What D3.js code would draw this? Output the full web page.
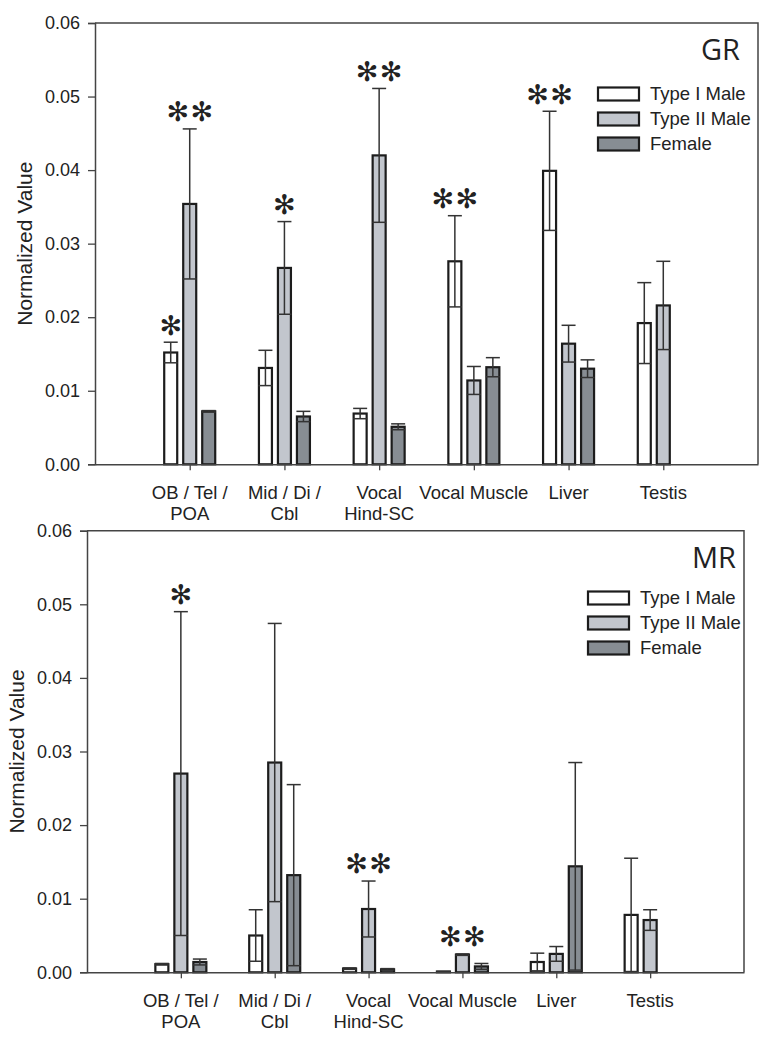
<!DOCTYPE html>
<html>
<head>
<meta charset="utf-8">
<script src="https://cdn.jsdelivr.net/npm/d3@7"></script>
<style>
  body { margin: 0; background: #fff; }
  svg text { font-family: "Liberation Sans", Arial, sans-serif; fill: #222; }
</style>
</head>
<body>
<div id="chart"></div>
<script>
/* DATA */
const categories = [["OB / Tel /", "POA"], ["Mid / Di /", "Cbl"], ["Vocal", "Hind-SC"], ["Vocal Muscle"], ["Liver"], ["Testis"]];
const groups = ["Type I Male", "Type II Male", "Female"];
const yTicks = [0, 0.01, 0.02, 0.03, 0.04, 0.05, 0.06];

// GR panel
const grType1 = [0.0152, 0.0131, 0.0069, 0.0276, 0.0399, 0.0192];
const grType1Se = [0.0014, 0.0024, 0.0007, 0.0062, 0.0081, 0.0055];
const grType2 = [0.0354, 0.0267, 0.0420, 0.0114, 0.0164, 0.0216];
const grType2Se = [0.0102, 0.0063, 0.0091, 0.0019, 0.0025, 0.0060];
const grFemale = [0.0072, 0.0065, 0.0051, 0.0132, 0.0130, null];
const grFemaleSe = [0.0001, 0.0007, 0.0004, 0.0013, 0.0012, null];
// [category, group, number of stars]
const grStars = [[0, 0, 1], [0, 1, 2], [1, 1, 1], [2, 1, 2], [3, 0, 2], [4, 0, 2]];

// MR panel
const mrType1 = [0.0011, 0.0050, 0.0005, 0.0001, 0.0014, 0.0078];
const mrType1Se = [0.0001, 0.0035, 0.0001, 0.0000, 0.0012, 0.0077];
const mrType2 = [0.0270, 0.0285, 0.0086, 0.0024, 0.0025, 0.0071];
const mrType2Se = [0.0220, 0.0189, 0.0038, 0.0001, 0.0010, 0.0014];
const mrFemale = [0.0014, 0.0132, 0.0004, 0.0008, 0.0144, null];
const mrFemaleSe = [0.0004, 0.0123, 0.0001, 0.0004, 0.0141, null];
const mrStars = [[0, 1, 1], [2, 1, 2], [3, 1, 2]];

/* CONSTANTS */
const width = 769, height = 1050;
const fills = ["#ffffff", "#c2c6cd", "#878d93"];
const barW = 13, barOffsets = [-19, 0, 19];

const svg = d3.select("#chart").append("svg")
  .attr("width", width)
  .attr("height", height);

function drawPanel(p) {
  const x = d3.scaleLinear().domain([0, 7]).range([p.left, p.right]);
  const y = d3.scaleLinear().domain([0, 0.06]).range([p.bottom, p.top]);
  const g = svg.append("g");

  // frame (top + right)
  g.append("path")
    .attr("d", `M${p.left},${p.top}H${p.right}V${p.bottom}`)
    .attr("fill", "none").attr("stroke", "#444").attr("stroke-width", 1.5);

  // flatten rows, category i sits at x = i + 1
  const rows = [];
  p.means.forEach((arr, gi) => arr.forEach((v, ci) => {
    if (v != null) rows.push({ ci, gi, v, se: p.ses[gi][ci] });
  }));
  const cx = d => x(d.ci + 1) + barOffsets[d.gi];

  g.selectAll("rect.bar")
    .data(rows)
    .join("rect")
    .attr("class", "bar")
    .attr("x", d => cx(d) - barW / 2)
    .attr("y", d => y(d.v))
    .attr("width", barW)
    .attr("height", d => y(0) - y(d.v))
    .attr("fill", d => fills[d.gi])
    .attr("stroke", "#1c1c1c")
    .attr("stroke-width", 2.2);

  // error bars
  const eb = g.selectAll("g.err")
    .data(rows)
    .join("g")
    .attr("class", "err")
    .attr("stroke", "#333")
    .attr("stroke-width", 1.5);
  eb.append("line")
    .attr("x1", cx).attr("x2", cx)
    .attr("y1", d => y(Math.max(0, d.v - d.se)))
    .attr("y2", d => y(d.v + d.se));
  eb.append("line")
    .attr("x1", d => cx(d) - 7).attr("x2", d => cx(d) + 7)
    .attr("y1", d => y(d.v + d.se)).attr("y2", d => y(d.v + d.se));
  eb.append("line")
    .attr("x1", d => cx(d) - 7).attr("x2", d => cx(d) + 7)
    .attr("y1", d => y(Math.max(0, d.v - d.se))).attr("y2", d => y(Math.max(0, d.v - d.se)));

  // axes
  const yAxis = d3.axisLeft(y).tickValues(yTicks).tickFormat(d3.format(".2f")).tickSize(7).tickPadding(8);
  const yg = g.append("g").attr("transform", `translate(${p.left},0)`).call(yAxis);
  yg.select(".domain").attr("stroke", "#444").attr("stroke-width", 1.5);
  yg.selectAll(".tick line").attr("stroke", "#444").attr("stroke-width", 1.3);
  yg.selectAll("text").attr("font-size", 18).attr("fill", "#222");

  const xAxis = d3.axisBottom(x).tickValues([1, 2, 3, 4, 5, 6]).tickFormat("").tickSize(6).tickSizeOuter(0);
  const xg = g.append("g").attr("transform", `translate(0,${p.bottom})`).call(xAxis);
  xg.select(".domain").attr("stroke", "#444").attr("stroke-width", 1.5);
  xg.selectAll(".tick line").attr("stroke", "#444").attr("stroke-width", 1.3);

  // category labels
  const lab = g.selectAll("text.cat")
    .data(categories)
    .join("text")
    .attr("class", "cat")
    .attr("text-anchor", "middle")
    .attr("font-size", 18.5)
    .attr("y", p.bottom + 35);
  lab.selectAll("tspan")
    .data((d, i) => d.map(t => ({ t, i })))
    .join("tspan")
    .attr("x", d => x(d.i + 1))
    .attr("dy", (d, j) => j === 0 ? 0 : 21)
    .text(d => d.t);

  // y label
  g.append("text")
    .attr("transform", `translate(${p.labelX},${(p.top + p.bottom) / 2}) rotate(-90)`)
    .attr("text-anchor", "middle")
    .attr("dy", "0.35em")
    .attr("font-size", 21)
    .text("Normalized Value");

  // panel title
  g.append("text")
    .attr("x", p.titleX).attr("y", p.top + 37)
    .attr("text-anchor", "end")
    .attr("font-size", 29)
    .style("font-family", "'Open Sans', sans-serif")
    .text(p.title);

  // legend
  const lg = g.append("g").attr("transform", `translate(${p.legX},${p.legY})`);
  groups.forEach((name, i) => {
    lg.append("rect")
      .attr("x", 0).attr("y", i * 25)
      .attr("width", 41).attr("height", 13)
      .attr("fill", fills[i]).attr("stroke", "#1c1c1c").attr("stroke-width", 2.2);
    lg.append("text")
      .attr("x", 52).attr("y", i * 25 + 6.5)
      .attr("dy", "0.35em")
      .attr("font-size", 18.5)
      .text(name);
  });

  // significance stars
  p.stars.forEach(([ci, gi, n]) => {
    const d = rows.find(r => r.ci === ci && r.gi === gi);
    const top = y(d.v + d.se);
    for (let k = 0; k < n; k++) {
      const sx = cx(d) + (k - (n - 1) / 2) * 24;
      g.append("text")
        .attr("class", "star")
        .attr("x", sx).attr("y", top - 17)
        .attr("dy", "0.35em")
        .attr("text-anchor", "middle")
        .attr("font-size", 27)
        .style("font-family", "'DejaVu Sans', sans-serif")
        .text("\u273B");
    }
  });
}

drawPanel({
  title: "GR", left: 95, right: 758, top: 23, bottom: 464.3, labelX: 25, titleX: 740,
  legX: 598, legY: 87.5,
  means: [grType1, grType2, grFemale], ses: [grType1Se, grType2Se, grFemaleSe], stars: grStars
});
drawPanel({
  title: "MR", left: 87, right: 744, top: 530.7, bottom: 972.3, labelX: 17, titleX: 736,
  legX: 588, legY: 591.5,
  means: [mrType1, mrType2, mrFemale], ses: [mrType1Se, mrType2Se, mrFemaleSe], stars: mrStars
});
</script>
</body>
</html>
